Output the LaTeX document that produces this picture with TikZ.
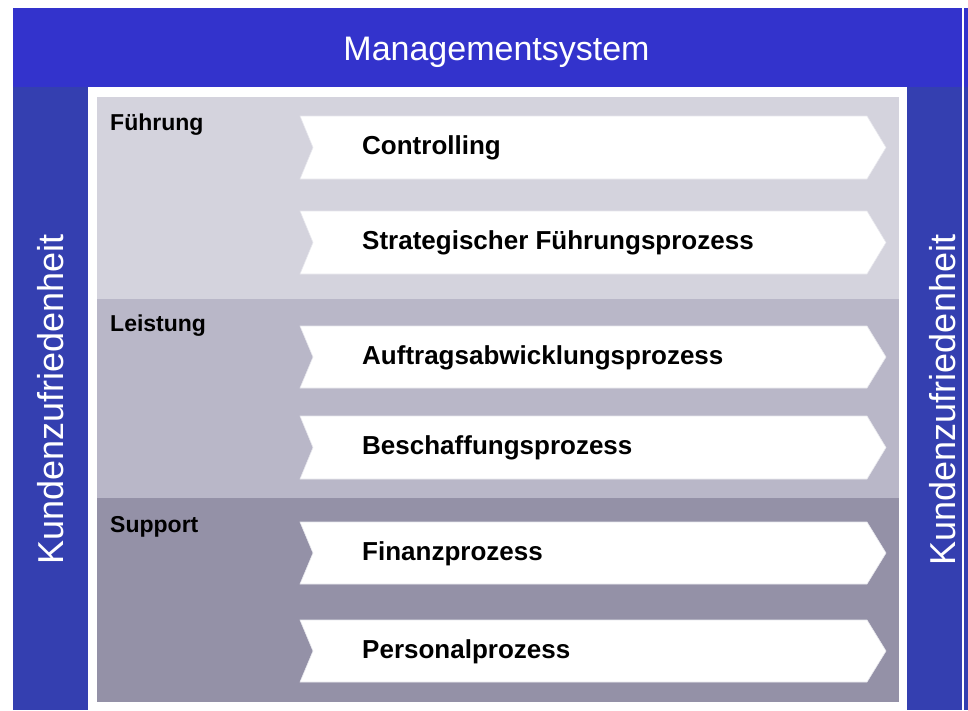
\documentclass[tikz,border=0pt]{standalone}
\usepackage{fontspec}
\setmainfont{Liberation Sans}
\definecolor{topblue}{HTML}{3333CC}
\definecolor{sideblue}{HTML}{343FB0}
\definecolor{fgray}{HTML}{D4D3DD}
\definecolor{lgray}{HTML}{B9B7C8}
\definecolor{sgray}{HTML}{9491A7}
\definecolor{chevedge}{HTML}{E6E6EC}
\tikzset{
  chevbox/.style={fill=white, draw=chevedge, line width=0.6pt},
  chevtext/.style={anchor=base west, inner sep=0pt, font=\fontsize{26}{30}\selectfont\bfseries},
  seclabel/.style={anchor=base west, inner sep=0pt, font=\fontsize{23}{27}\selectfont\bfseries},
  sidetext/.style={rotate=90, text=white, inner sep=0pt, font=\fontsize{36}{40}\selectfont},
  titletext/.style={anchor=base, text=white, inner sep=0pt, font=\fontsize{34}{40}\selectfont}
}
\newcommand\mychev[4]{% #1 name, #2 top, #3 bottom, #4 text
  \fill[chevbox] (300,#2) -- (867,#2) -- (886,{(#2+#3)/2}) -- (867,#3) -- (300,#3) -- (313,{(#2+#3)/2}) -- cycle;
  \node[chevtext] (#1) at (362,{(#2+#3)/2+7}) {#4};
}
\begin{document}
\begin{tikzpicture}[x=1pt,y=-1pt]
\fill[white] (0,0) rectangle (968,710);
\useasboundingbox (0,0) rectangle (968,710);
% frame bands
\fill[topblue] (13,8) rectangle (962,87);
\fill[sideblue] (13,87) rectangle (88,710);
\fill[sideblue] (907,87) rectangle (962,710);
\fill[topblue] (964,8) rectangle (968,87);
\fill[sideblue] (964,87) rectangle (968,710);
% panels
\fill[fgray] (97,97) rectangle (899,299);
\fill[lgray] (97,299) rectangle (899,498);
\fill[sgray] (97,498) rectangle (899,702);
% texts on bands
\node[titletext] (ms) at (496.5,60) {Managementsystem};
\node[sidetext] (kl) at (50.5,399.5) {Kundenzufriedenheit};
\node[sidetext] (kr) at (942.5,400) {Kundenzufriedenheit};
% section labels
\node[seclabel] (fu) at (110,130) {Führung};
\node[seclabel] (le) at (110,331) {Leistung};
\node[seclabel] (su) at (110,532) {Support};
% chevrons
\mychev{c1}{116}{179}{Controlling}
\mychev{c2}{211}{274}{Strategischer Führungsprozess}
\mychev{c3}{326}{388}{Auftragsabwicklungsprozess}
\mychev{c4}{416}{479}{Beschaffungsprozess}
\mychev{c5}{522}{584}{Finanzprozess}
\mychev{c6}{620}{682}{Personalprozess}
\end{tikzpicture}
\end{document}
